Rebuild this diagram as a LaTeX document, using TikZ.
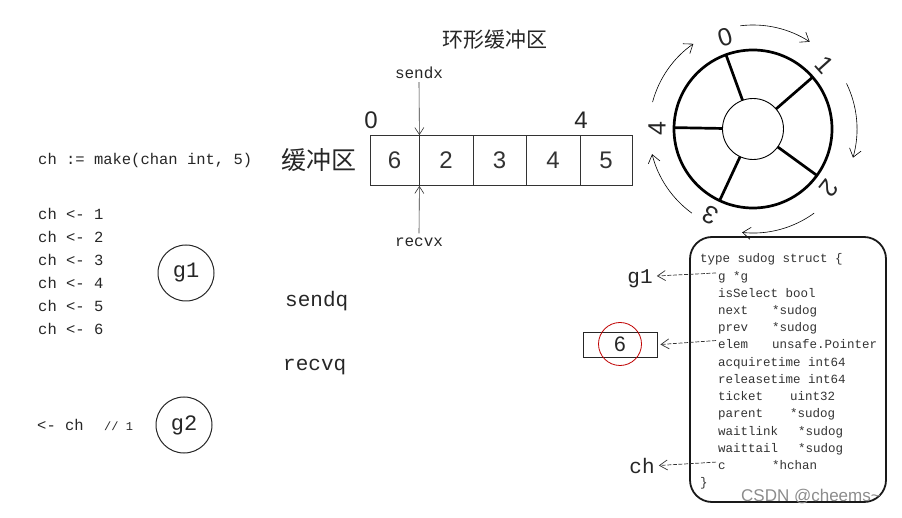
\documentclass[tikz,border=0pt]{standalone}
\usepackage{fontspec}
\setmainfont{Liberation Sans}
\newfontfamily\monof{Liberation Mono}
\newfontfamily\cjk{Noto Sans CJK SC}
\usetikzlibrary{arrows.meta}
\tikzset{
  txt/.style={text=black!85, inner sep=0pt},
  code/.style={txt, anchor=base west, font=\monof\fontsize{15.5pt}{15.5pt}\selectfont},
  sline/.style={txt, anchor=base west, font=\monof\fontsize{12.5pt}{12.5pt}\selectfont, text=black!80},
  big/.style={txt, font=\monof\fontsize{21pt}{21pt}\selectfont},
  cell/.style={draw=black!80, line width=0.8pt, minimum height=50pt, inner sep=0pt, font=\fontsize{24pt}{24pt}\selectfont, text=black!80},
  gcirc/.style={circle, draw=black!85, line width=1pt, minimum size=56pt, inner sep=0pt, font=\monof\fontsize{22pt}{22pt}\selectfont, text=black!85},
  barb/.style={-{Straight Barb[length=7pt,width=9pt]}, line width=0.6pt, draw=black!80},
  dbarb/.style={-{Straight Barb[length=8pt,width=10pt]}, line width=0.7pt, draw=black!80, dash pattern=on 4pt off 1.6pt}
}
\begin{document}
\begin{tikzpicture}[x=1pt,y=-1pt]
\useasboundingbox (0,0) rectangle (902,518);

% title
\node[txt, font=\cjk\fontsize{21pt}{21pt}\selectfont] (title) at (495,40) {环形缓冲区};

% left code
\node[code] (mk) at (38,165) {ch := make(chan int, 5)};
\node[code] (s1) at (38,220) {ch <- 1};
\node[code] (s2) at (38,243) {ch <- 2};
\node[code] (s3) at (38,266) {ch <- 3};
\node[code] (s4) at (38,289) {ch <- 4};
\node[code] (s5) at (38,312) {ch <- 5};
\node[code] (s6) at (38,335) {ch <- 6};
\node[code] (rc) at (37,430) {<- ch};
\node[code, font=\monof\fontsize{12pt}{12pt}\selectfont] (cm) at (104,430) {// 1};

\node[gcirc] (g1) at (186,273) {g1};
\node[gcirc] (g2) at (184,425) {g2};

\node[big, anchor=west] (sendq) at (285,301) {sendq};
\node[big, anchor=west] (recvq) at (283,367) {recvq};

% buffer
\node[txt, font=\cjk\fontsize{25pt}{25pt}\selectfont] (buflbl) at (319,160) {缓冲区};
\node[cell, minimum width=49pt] (c0) at (394.5,160.5) {6};
\node[cell, minimum width=54pt] (c1) at (446,160.5) {2};
\node[cell, minimum width=53pt] (c2) at (499.5,160.5) {3};
\node[cell, minimum width=54pt] (c3) at (553,160.5) {4};
\node[cell, minimum width=52pt] (c4) at (606,160.5) {5};
\node[txt, font=\fontsize{24pt}{24pt}\selectfont] (i0) at (371,120) {0};
\node[txt, font=\fontsize{24pt}{24pt}\selectfont] (i4) at (581,120) {4};

\node[txt, font=\monof\fontsize{16pt}{16pt}\selectfont] (sendx) at (419,73) {sendx};
\node[txt, font=\monof\fontsize{16pt}{16pt}\selectfont] (recvx) at (419,242) {recvx};
\draw[barb] (sendx.south) ++(0,3) -- (c0.north east);
\draw[barb] (recvx.north) ++(0,-4) -- (c0.south east);

% ring
\begin{scope}[shift={(753,129)}, yscale=-1]
  \draw[line width=2.7pt] (0,0) circle[radius=79];
  \draw[line width=0.9pt, fill=white] (0,0) circle[radius=30.5];
  \foreach \a in {110,41,-36,-115,179}
    \draw[line width=2.7pt] (\a:30.5) -- (\a:79);
  \foreach \a/\t in {107/0, 42/1, -38/2, -116/3, 180/4}
    \node[txt, font=\fontsize{25pt}{25pt}\selectfont, rotate=\a-90, name=rl\t] at (\a:96) {\t};
  \foreach \s/\e in {97/57, 26/-16, -54/-96, -126/-166, 165/125}
    \draw[-{Straight Barb[length=8pt,width=12pt]}, line width=0.6pt] (\s:104) arc[start angle=\s, end angle=\e, radius=104];
\end{scope}

% struct
\node[draw=black!90, line width=1.8pt, rounded corners=22pt, minimum width=196pt, minimum height=265pt] (box) at (788,369.5) {};
\node[sline] (l0) at (700,263) {type sudog struct \{};
\node[sline] (l1) at (718,280.2) {g *g};
\node[sline] (l2) at (718,297.4) {isSelect bool};
\node[sline] (l3) at (718,314.6) {next};
\node[sline] (t3) at (772,314.6) {*sudog};
\node[sline] (l4) at (718,331.8) {prev};
\node[sline] (t4) at (772,331.8) {*sudog};
\node[sline] (l5) at (718,349) {elem};
\node[sline] (t5) at (772,349) {unsafe.Pointer};
\node[sline] (l6) at (718,366.2) {acquiretime int64};
\node[sline] (l7) at (718,383.4) {releasetime int64};
\node[sline] (l8) at (718,400.6) {ticket};
\node[sline] (t8) at (790,400.6) {uint32};
\node[sline] (l9) at (718,417.8) {parent};
\node[sline] (t9) at (790,417.8) {*sudog};
\node[sline] (l10) at (718,435) {waitlink};
\node[sline] (t10) at (798,435) {*sudog};
\node[sline] (l11) at (718,452.2) {waittail};
\node[sline] (t11) at (798,452.2) {*sudog};
\node[sline] (l12) at (718,469.4) {c};
\node[sline] (t12) at (772,469.4) {*hchan};
\node[sline] (l13) at (700,486.6) {\}};

% pointed-to items
\node[big] (pg1) at (640,279) {g1};
\node[draw=black!85, line width=0.8pt, minimum width=74pt, minimum height=25pt, inner sep=0pt, font=\fontsize{21pt}{21pt}\selectfont, text=black!85] (ebox) at (620,344.5) {6};
\node[circle, draw=red!75!black, line width=0.8pt, minimum size=43pt, inner sep=0pt] (ecirc) at (620,344) {};
\node[big] (pch) at (642,466) {ch};

\draw[dbarb] (l1.west) ++(-2,-4) -- ([xshift=4pt]pg1.east |- 0,276);
\draw[dbarb] (l5.west) ++(-2,-4) -- ([xshift=3pt]ebox.east);
\draw[dbarb] (l12.west) ++(-2,-4) -- ([xshift=4pt]pch.east |- 0,465.5);

% watermark
\node[txt, text=black!45, font=\fontsize{17pt}{17pt}\selectfont] (wm) at (811,497) {CSDN @cheems\~{}};
\end{tikzpicture}
\end{document}
